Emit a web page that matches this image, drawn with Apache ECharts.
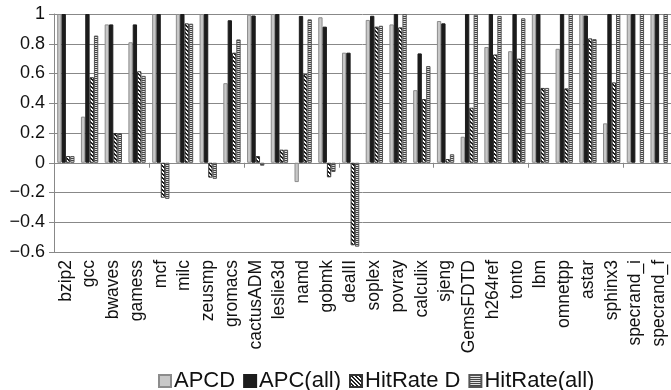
<!DOCTYPE html>
<html>
<head>
<meta charset="utf-8">
<script src="https://cdn.jsdelivr.net/npm/echarts@6/dist/echarts.min.js"></script>
<style>
html,body{margin:0;padding:0;background:#fff;}
#chart{width:671px;height:390px;}
</style>
</head>
<body>
<div id="chart"></div>
<script>
const categories = ['bzip2','gcc','bwaves','gamess','mcf','milc','zeusmp','gromacs','cactusADM','leslie3d','namd','gobmk','dealII','soplex','povray','calculix','sjeng','GemsFDTD','h264ref','tonto','lbm','omnetpp','astar','sphinx3','specrand_i','specrand_f'];
const apcd = [1, 0.31, 0.93, 0.81, 1, 1, 1, 0.535, 0.995, 1, -0.13, 0.978, 0.74, 0.96, 0.93, 0.488, 0.953, 0.175, 0.778, 0.75, 1, 0.766, 1, 0.265, 1, 1];
const apcAll = [1, 1, 0.93, 0.93, 1, 1, 1, 0.958, 0.99, 1, 0.987, 0.915, 0.74, 0.988, 1, 0.735, 0.937, 1, 1, 1, 1, 1, 0.99, 1, 1, 1];
const hitRateD = [0.045, 0.575, 0.2, 0.615, -0.235, 0.937, -0.1, 0.74, 0.045, 0.088, 0.596, -0.098, -0.555, 0.915, 0.91, 0.428, 0.025, 0.37, 0.728, 0.7, 0.503, 0.5, 0.836, 0.54, null, null];
const hitRateAll = [0.045, 0.855, 0.2, 0.584, -0.243, 0.935, -0.108, 0.829, -0.02, 0.088, 0.964, -0.062, -0.564, 0.921, 1, 0.65, 0.057, 0.995, 0.987, 0.971, 0.503, 1, 0.831, 1, 1, 1];
const yTicks = {min: -0.6, max: 1, interval: 0.2};

function makePattern(w, h, draw) {
  const c = document.createElement('canvas');
  c.width = w; c.height = h;
  draw(c.getContext('2d'));
  return c;
}
const diagPattern = makePattern(4, 4, ctx => {
  ctx.fillStyle = '#ffffff'; ctx.fillRect(0, 0, 4, 4);
  ctx.fillStyle = '#1a1a1a';
  for (let i = 0; i < 4; i++) { ctx.fillRect(i, i, 1, 1); ctx.fillRect((i + 1) % 4, i, 1, 1); }
});
const horizPattern = makePattern(2, 2, ctx => {
  ctx.fillStyle = '#e0e0e0'; ctx.fillRect(0, 0, 2, 2);
  ctx.fillStyle = '#444444'; ctx.fillRect(0, 0, 2, 1);
});

const font = '"Liberation Sans", Arial, sans-serif';
const chart = echarts.init(document.getElementById('chart'), null, {renderer: 'canvas'});
const barCommon = {type: 'bar', barGap: '0%', barCategoryGap: '27%', xAxisIndex: 0};
chart.setOption({
  animation: false,
  backgroundColor: '#ffffff',
  textStyle: {fontFamily: font},
  grid: {left: 54, top: 14, width: 624, height: 238, containLabel: false},
  legend: {
    left: 153, top: 365, itemWidth: 12, itemHeight: 12, itemGap: 8,
    textStyle: {fontSize: 22, color: '#111', fontFamily: font, padding: [0, 0, 0, -2]},
    icon: 'rect',
    data: ['APCD', 'APC(all)', 'HitRate D', 'HitRate(all)']
  },
  xAxis: [{
    type: 'category', data: categories, position: 'bottom',
    axisLine: {show: false, onZero: false},
    axisTick: {show: false},
    axisLabel: {rotate: 90, fontSize: 17.5, color: '#111', margin: 8, interval: 0, fontFamily: font}
  }, {
    type: 'category', data: categories, position: 'top',
    axisLine: {show: true, onZero: true, lineStyle: {color: '#888', width: 1}},
    axisTick: {show: true, inside: true, length: 5, lineStyle: {color: '#888'}},
    axisLabel: {show: false}
  }],
  yAxis: {
    type: 'value', min: yTicks.min, max: yTicks.max, interval: yTicks.interval,
    axisLine: {show: true, lineStyle: {color: '#888', width: 1}},
    axisTick: {show: true, length: 5, lineStyle: {color: '#888'}},
    splitLine: {show: true, lineStyle: {color: '#888', width: 1}},
    axisLabel: {fontSize: 18, color: '#111', margin: 9, fontFamily: font,
      formatter: v => String(Math.round(v * 10) / 10).replace('-', '\u2212')}
  },
  series: [
    Object.assign({}, barCommon, {name: 'APCD', data: apcd,
      itemStyle: {color: '#c8c8c8', borderColor: '#8c8c8c', borderWidth: 1}}),
    Object.assign({}, barCommon, {name: 'APC(all)', data: apcAll,
      itemStyle: {color: '#1c1c1c', borderColor: '#1c1c1c', borderWidth: 1}}),
    Object.assign({}, barCommon, {name: 'HitRate D', data: hitRateD,
      itemStyle: {color: {image: diagPattern, repeat: 'repeat'}, borderColor: '#333', borderWidth: 1}}),
    Object.assign({}, barCommon, {name: 'HitRate(all)', data: hitRateAll,
      itemStyle: {color: {image: horizPattern, repeat: 'repeat'}, borderColor: '#555', borderWidth: 1}})
  ]
});
</script>
</body>
</html>
